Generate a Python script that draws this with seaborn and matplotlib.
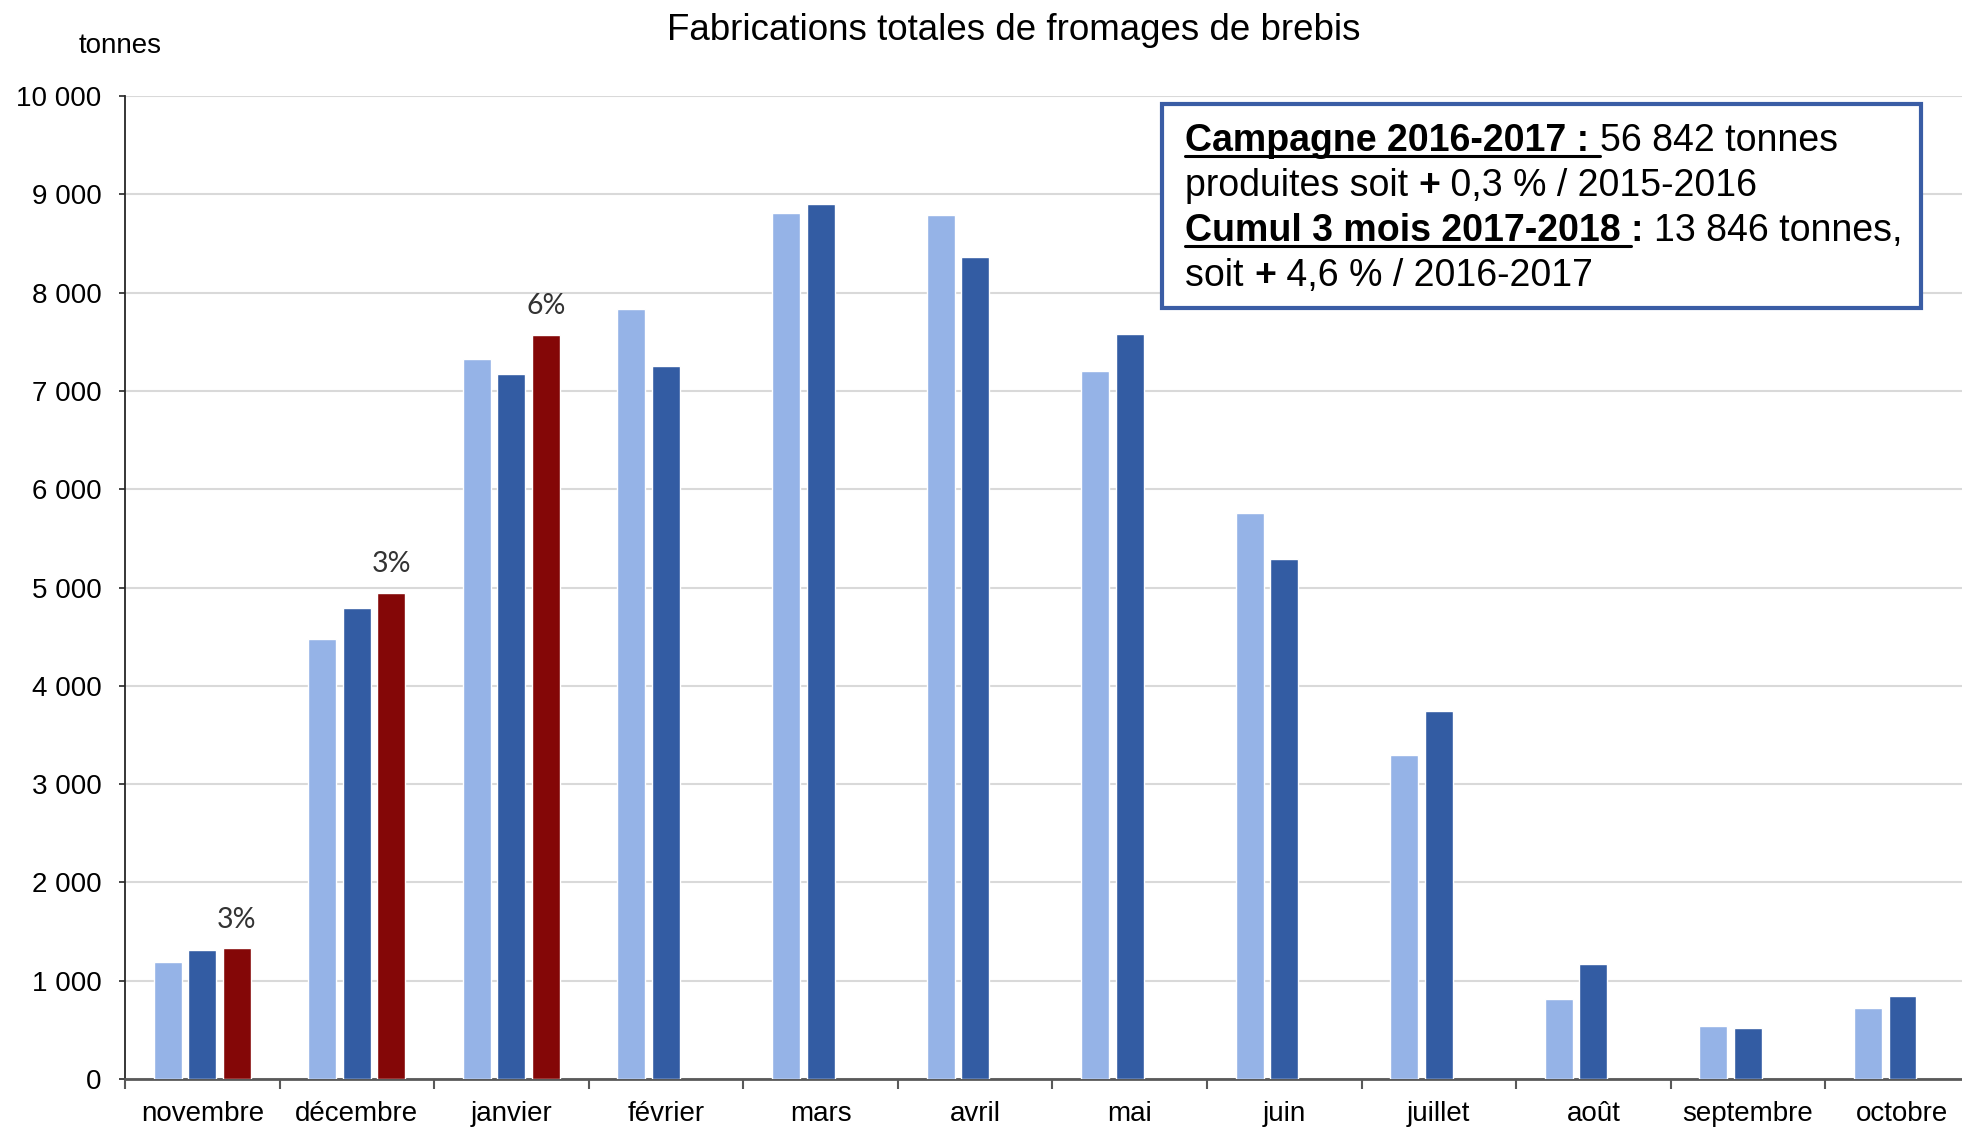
import matplotlib
matplotlib.use("Agg")
import matplotlib.pyplot as plt
import seaborn as sns
import pandas as pd
from matplotlib.lines import Line2D
from matplotlib.patches import Rectangle
from matplotlib.ticker import MultipleLocator, FuncFormatter, FixedLocator

# monthly production of ewe cheese (tonnes)
months = ["novembre", "décembre", "janvier", "février", "mars", "avril",
          "mai", "juin", "juillet", "août", "septembre", "octobre"]
campaigns = ["2015-2016", "2016-2017", "2017-2018"]
prod_2015_16 = [1193, 4476, 7321, 7833, 8806, 8793, 7202, 5758, 3301, 813, 539, 722]
prod_2016_17 = [1309, 4794, 7172, 7250, 8898, 8365, 7576, 5287, 3747, 1167, 522, 848]
prod_2017_18 = [1330, 4947, 7572]
pct_labels = ["3%", "3%", "6%"]
colors = ["#95B3E7", "#335CA3", "#840707"]

title = "Fabrications totales de fromages de brebis"
unit_label = "tonnes"
box_lines = [
    [("Campagne 2016-2017 : ", True, True), ("56 842 tonnes", False, False)],
    [("produites soit ", False, False), ("+", True, False), (" 0,3 % / 2015-2016", False, False)],
    [("Cumul 3 mois 2017-2018 ", True, True), (": ", True, False), ("13 846 tonnes,", False, False)],
    [("soit ", False, False), ("+", True, False), (" 4,6 % / 2016-2017", False, False)],
]

rows = []
for serie, vals in zip(campaigns, [prod_2015_16, prod_2016_17, prod_2017_18]):
    for m, v in zip(months, vals):
        rows.append({"mois": m, "campagne": serie, "tonnes": v})
df = pd.DataFrame(rows)

sns.set_theme(style="white")
plt.rcParams['font.family'] = ['Liberation Sans', 'DejaVu Sans']
plt.rcParams['text.color'] = 'black'

W, H = 1962, 1127
fig = plt.figure(figsize=(W / 100, H / 100), dpi=100)
ax = fig.add_axes([125 / W, 1 - 1079 / H, 1 - 125 / W, (1079 - 96) / H])

sns.barplot(data=df, x="mois", y="tonnes", hue="campagne", order=months,
            hue_order=campaigns, palette=colors, saturation=1, width=0.67,
            gap=0.19, errorbar=None, legend=False, ax=ax, zorder=3)

ax.set_xlim(-0.5, 11.385)
ax.set_ylim(0, 10000)
ax.set_xlabel("")
ax.set_ylabel("")
ax.yaxis.set_major_locator(MultipleLocator(1000))
ax.yaxis.set_major_formatter(FuncFormatter(lambda v, p: f"{int(v):,}".replace(",", " ")))
ax.grid(axis="y", color="#D9D9D9", linewidth=1.5)
ax.set_axisbelow(True)

for s in ["top", "right"]:
    ax.spines[s].set_visible(False)
ax.spines["left"].set_color("#262626")
ax.spines["left"].set_linewidth(1.3)
ax.spines["bottom"].set_color("#595959")
ax.spines["bottom"].set_linewidth(2)

ax.xaxis.set_minor_locator(FixedLocator([i - 0.5 for i in range(len(months) + 1)]))
ax.tick_params(axis="x", which="major", length=0, pad=16, labelsize=20, labelcolor="black")
ax.tick_params(axis="x", which="minor", length=7, width=1.5, color="#595959", direction="out", bottom=True)
ax.tick_params(axis="y", length=4, width=1.2, color="#262626", pad=13, labelsize=20,
               labelcolor="black", left=True)

# percentage labels above the current campaign bars
ax.bar_label(ax.containers[2], labels=pct_labels, padding=11, fontsize=20.5,
             color="#333333", family=["Lato", "DejaVu Sans"])

fig.text(1014 / W, 1 - 31 / H, title, ha="center", va="center", fontsize=26.5)
fig.text(120 / W, 1 - 46 / H, unit_label, ha="center", va="center", fontsize=20)

# summary box
fig.add_artist(Rectangle((1162 / W, 1 - 308 / H), (1921 - 1162) / W, (308 - 104) / H,
                         transform=fig.transFigure, facecolor="white",
                         edgecolor="#3A5DA5", linewidth=3, zorder=4))
renderer = fig.canvas.get_renderer()
baselines = [151, 196, 241, 286]
for pieces, yb in zip(box_lines, baselines):
    x = 1185 / W
    y = 1 - yb / H
    for txt, bold, under in pieces:
        t = fig.text(x, y, txt, fontsize=27, fontweight="bold" if bold else "normal",
                     ha="left", va="baseline", zorder=5)
        bb = t.get_window_extent(renderer).transformed(fig.transFigure.inverted())
        if under:
            fig.add_artist(Line2D([bb.x0, bb.x1], [y - 5 / H] * 2, transform=fig.transFigure,
                                  color="black", linewidth=2.2, zorder=5))
        x = bb.x1

fig.savefig("out.png", dpi=100)
